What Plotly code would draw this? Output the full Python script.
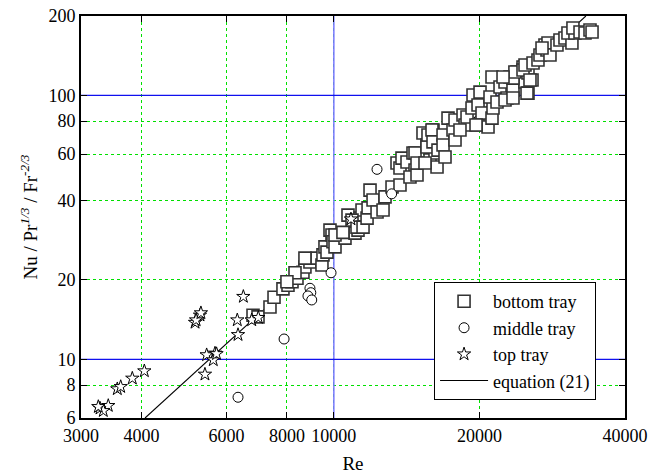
import math
import plotly.graph_objects as go

# ---------------- data ----------------
bottom_re = [6805, 6969, 7378, 7521, 7848, 8038, 8193, 8390, 8632, 8714, 8924, 9228, 9450, 9495,
             9586, 9678, 9818, 9911, 9959, 10055, 10544, 10696, 11060, 11326, 11219, 11435,
             10055, 10442, 10903, 11165, 11491, 11713, 11769, 11880, 12052, 12283, 12639, 12759,
             13192, 13701, 13508, 13701, 13833, 14166, 14576, 14718, 14369, 14857, 15287, 15582,
             15806, 16034, 16186, 16343, 14718, 14857, 15582, 15433, 15655, 15957, 16034, 16419,
             16818, 16818, 16977, 17222, 17637, 17806, 18497, 18675, 18854, 19308, 19399, 19867,
             20057, 19867, 20248, 20835, 21235, 21336, 21033, 21747, 21235, 22060, 22592, 22807,
             23135, 23466, 24034, 23921, 24612, 24848, 25204, 22592, 23466, 25204, 25692, 23466,
             23680, 24612, 24848, 25815, 26431, 26685, 27588, 27327, 27721, 27985, 28934, 29350,
             30055, 31071, 30486, 31520, 31220, 32288, 33065, 33859, 34191, 8714, 8311, 7998,
             25086, 25443, 19677, 17806, 18231, 22378, 26944]
bottom_nu = [14.7, 14.5, 15.8, 17.2, 18.5, 19.1, 19.7, 20.3, 21.4, 22.4, 23.4, 24.2, 22.8, 24.9,
             26.7, 25.5, 30.9, 29.6, 27.9, 26.7, 28.8, 35.2, 30.1, 34.3, 30.9, 36.8,
             29.6, 30.3, 33.7, 31.7, 31.7, 34.3, 37.5, 43.8, 40.2, 36.2, 36.8, 41.3,
             45.0, 45.8, 55.5, 53.1, 57.9, 56.0, 60.5, 52.2, 49.1, 50.0, 72.1, 64.9,
             57.0, 74.0, 60.5, 53.6, 60.5, 55.5, 63.8, 55.5, 70.8, 74.0, 66.7, 62.1,
             70.8, 64.9, 58.5, 82.1, 74.0, 80.7, 84.3, 77.3, 82.9, 89.6, 100.4, 92.0,
             103.0, 77.3, 85.8, 76.0, 82.1, 89.6, 98.7, 94.4, 117.4, 107.6, 112.4, 97.8,
             117.4, 104.8, 117.4, 122.7, 128.1, 112.4, 121.6, 96.1, 97.8, 102.1, 114.4, 116.5,
             122.7, 124.9, 130.5, 132.8, 136.3, 142.3, 148.6, 155.3, 158.0, 142.3, 155.3, 162.2,
             165.1, 158.0, 172.4, 172.4, 180.1, 173.9, 172.4, 177.0, 173.9, 24.2, 21.3, 19.7,
             102.1, 114.4, 77.3, 67.8, 74.0, 117.4, 151.3]

middle_re = [6336, 7890, 8924, 8960, 8840, 9000, 9867, 13167, 12282]
middle_nu = [7.19, 11.95, 18.6, 17.9, 17.4, 16.8, 21.3, 42.4, 52.5]

top_re = [3284, 3416, 3336, 3258, 3566, 3624, 3830, 4056, 5164, 5287, 5190, 5310, 5457, 5678,
          5632, 5720, 5413, 6314, 6336, 6499, 6763, 6979, 10849]
top_nu = [6.53, 6.68, 6.39, 6.62, 7.73, 7.88, 8.48, 9.04, 13.8, 14.7, 14.1, 15.0, 10.4, 10.55,
          9.95, 10.5, 8.78, 14.1, 12.4, 17.3, 14.1, 14.4, 34.0]

eq_re = [4070, 33200]
eq_nu = [6, 200]

x_ticks = [3000, 4000, 6000, 8000, 10000, 20000, 40000]
y_ticks = [6, 8, 10, 20, 40, 60, 80, 100, 200]
x_major = [10000]
y_major = [10, 100]
x_range = [3000, 40000]
y_range = [6, 200]

FONT = "Liberation Serif, Times New Roman, serif"

fig = go.Figure()

# solid blue major grid lines
for xv in x_major:
    fig.add_trace(go.Scatter(x=[xv, xv], y=y_range, mode="lines",
                             line=dict(color="#7878ff", width=1.5),
                             showlegend=False, hoverinfo="skip"))
for yv in y_major:
    fig.add_trace(go.Scatter(x=x_range, y=[yv, yv], mode="lines",
                             line=dict(color="#1010ee", width=1.2),
                             showlegend=False, hoverinfo="skip"))

fig.add_trace(go.Scatter(x=eq_re, y=eq_nu, mode="lines", name="equation (21)",
                         line=dict(color="black", width=1.1), legendrank=4))

fig.add_trace(go.Scatter(x=bottom_re, y=bottom_nu, mode="markers", name="bottom tray",
                         marker=dict(symbol="square", size=12, color="white",
                                     line=dict(color="#333333", width=1.6)),
                         legendrank=1))
fig.add_trace(go.Scatter(x=middle_re, y=middle_nu, mode="markers", name="middle tray",
                         marker=dict(symbol="circle", size=10, color="white",
                                     line=dict(color="black", width=1)),
                         legendrank=2))
fig.add_trace(go.Scatter(x=top_re, y=top_nu, mode="markers", name="top tray",
                         marker=dict(symbol="star", size=10, color="white",
                                     line=dict(color="black", width=1)),
                         legendrank=3))

axis_common = dict(
    type="log", showline=True, linecolor="black", linewidth=1.8, mirror="ticks",
    ticks="inside", ticklen=6, tickcolor="black", tickwidth=1.2,
    showgrid=True, gridcolor="#00e000", griddash="dot", gridwidth=1.2,
    zeroline=False, automargin=False,
    tickfont=dict(family=FONT, size=18, color="black"),
)

fig.update_xaxes(**axis_common, range=[math.log10(x_range[0]), math.log10(x_range[1])],
                 tickvals=x_ticks, ticktext=[str(v) for v in x_ticks],
                 title=dict(text="Re", font=dict(family=FONT, size=19, color="black"), standoff=12))
fig.update_yaxes(**axis_common, range=[math.log10(y_range[0]), math.log10(y_range[1])],
                 tickvals=y_ticks, ticktext=[str(v) for v in y_ticks],
                 title=dict(text="Nu / Pr<sup><i>1/3</i></sup> / Fr<sup><i>-2/3</i></sup>",
                            font=dict(family=FONT, size=19, color="black"), standoff=6))

fig.update_layout(
    width=660, height=474,
    margin=dict(l=81, r=35, t=16, b=56),
    paper_bgcolor="white", plot_bgcolor="white",
    font=dict(family=FONT, size=18, color="black"),
    legend=dict(x=0.649, y=0.338, xanchor="left", yanchor="top",
                bgcolor="white", bordercolor="black", borderwidth=1,
                font=dict(family=FONT, size=18, color="black"),
                tracegroupgap=0, itemwidth=48),
)

fig.write_html("out.html", config={"displayModeBar": False},
               post_script="document.body.style.margin='0';")
